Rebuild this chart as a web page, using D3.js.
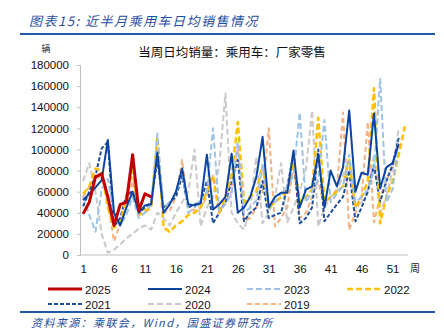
<!DOCTYPE html>
<html><head><meta charset="utf-8">
<script src="https://cdn.jsdelivr.net/npm/d3@7/dist/d3.min.js"></script>
<style>body{margin:0;background:#fff;} svg{display:block;}</style>
</head><body>
<svg id="c" width="444" height="333"></svg>
<script>
const weeks = d3.range(1, 54);
const xTickLabels = [1, 6, 11, 16, 21, 26, 31, 36, 41, 46, 51];
const yTicks = [0, 20000, 40000, 60000, 80000, 100000, 120000, 140000, 160000, 180000];
const seriesNames = ["2025", "2024", "2023", "2022", "2021", "2020", "2019"];

const s2025 = [39000, 50000, 74000, 77000, 55000, 28000, 48000, 50000, 95000, 42000, 58000, 55000];
const s2024 = [52000, 58000, 64000, 71000, 109000, 40000, 28000, 45000, 60000, 40000, 47000, 48000, 97000, 40000, 48000, 60000, 82000, 48000, 47000, 49000, 95000, 43000, 48000, 55000, 96000, 40000, 45000, 55000, 74000, 112000, 45000, 55000, 59000, 59000, 99000, 45000, 62000, 65000, 95000, 45000, 80000, 65000, 83000, 137000, 60000, 78000, 76000, 134000, 63000, 83000, 87000, 105000];
const s2023 = [55000, 38000, 22000, 62000, 72000, 38000, 28000, 38000, 55000, 35000, 40000, 48000, 115000, 45000, 50000, 58000, 80000, 40000, 45000, 52000, 60000, 120000, 42000, 48000, 58000, 107000, 40000, 45000, 52000, 85000, 45000, 50000, 58000, 65000, 75000, 135000, 50000, 60000, 72000, 128000, 50000, 58000, 65000, 95000, 50000, 55000, 62000, 80000, 167000, 50000, 62000, 110000];
const s2022 = [58000, 65000, 82000, 80000, 45000, 26000, 30000, 55000, 80000, 38000, 42000, 45000, 112000, 26000, 22000, 28000, 32000, 38000, 40000, 45000, 60000, 75000, 40000, 55000, 75000, 126000, 50000, 55000, 60000, 85000, 45000, 50000, 55000, 60000, 92000, 50000, 55000, 62000, 130000, 50000, 55000, 60000, 65000, 90000, 45000, 55000, 70000, 158000, 30000, 55000, 70000, 95000, 122000];
const s2021 = [46000, 60000, 75000, 101000, 107000, 27000, 35000, 57000, 60000, 40000, 45000, 50000, 90000, 45000, 50000, 55000, 75000, 45000, 48000, 50000, 70000, 30000, 40000, 50000, 70000, 90000, 32000, 40000, 45000, 70000, 35000, 38000, 40000, 65000, 95000, 30000, 35000, 45000, 100000, 32000, 40000, 48000, 55000, 80000, 32000, 45000, 60000, 85000, 50000, 70000, 85000, 111000];
const s2020 = [70000, 87000, 60000, 20000, 2000, 5000, 10000, 16000, 20000, 25000, 28000, 24000, 40000, 35000, 28000, 40000, 50000, 60000, 100000, 27000, 45000, 55000, 85000, 153000, 40000, 30000, 24000, 45000, 93000, 30000, 40000, 55000, 87000, 31000, 45000, 60000, 80000, 137000, 27000, 45000, 55000, 60000, 75000, 90000, 45000, 50000, 60000, 95000, 40000, 55000, 80000, 120000];
const s2019 = [55000, 65000, 72000, 75000, 50000, 13000, 30000, 45000, 70000, 38000, 40000, 45000, 100000, 40000, 42000, 55000, 90000, 45000, 42000, 45000, 55000, 75000, 40000, 50000, 60000, 100000, 32000, 35000, 45000, 60000, 120000, 27000, 35000, 45000, 85000, 35000, 40000, 55000, 70000, 45000, 55000, 62000, 135000, 24000, 40000, 55000, 126000, 31000, 55000, 70000, 85000, 100000];

const seriesValues = [s2025, s2024, s2023, s2022, s2021, s2020, s2019];
const seriesColors = ["#C00000", "#0B45A0", "#9DC3E6", "#FFC000", "#1F4E9E", "#C9C9C9", "#F4B183"];
const seriesDash = [null, null, "6,3", "6,3", "4,2", "6,3", "5,3"];
const seriesWidth = [3, 2, 2, 2.5, 2, 2, 2];

const svg = d3.select("#c");
const x = d3.scalePoint().domain(weeks).range([80, 408]).padding(0.5);
const y = d3.scaleLinear().domain([0, 180000]).range([255, 65]);

// header
svg.append("text").attr("x", 29).attr("y", 26).attr("fill", "#1F4E9F")
  .attr("font-family", "'Noto Sans CJK SC', sans-serif").attr("font-style", "italic")
  .attr("font-size", 13).attr("letter-spacing", 1.5).text("图表15:  近半月乘用车日均销售情况");
svg.append("line").attr("x1", 20).attr("x2", 435).attr("y1", 34).attr("y2", 34)
  .attr("stroke", "#1F5AA8").attr("stroke-width", 2);

svg.append("text").attr("x", 46).attr("y", 52).attr("text-anchor", "middle")
  .attr("font-family", "'Noto Sans CJK SC', sans-serif").attr("font-size", 9).attr("fill", "#222").text("辆");
svg.append("text").attr("x", 232).attr("y", 57).attr("text-anchor", "middle")
  .attr("font-family", "'Noto Sans CJK SC', sans-serif").attr("font-size", 12.5).attr("fill", "#111")
  .text("当周日均销量：乘用车：厂家零售");

// axes
const yAxis = d3.axisLeft(y).tickValues(yTicks).tickSize(3).tickPadding(8).tickFormat(d3.format("d"));
const gy = svg.append("g").attr("transform", "translate(80,0)").call(yAxis);
gy.select(".domain").attr("stroke", "#BFBFBF");
gy.selectAll(".tick line").attr("stroke", "#BFBFBF");
gy.selectAll("text").attr("font-family", "'Liberation Sans', Arial, sans-serif").attr("font-size", 11.5).attr("fill", "#111");

const xAxis = d3.axisBottom(x).tickValues(xTickLabels).tickSize(0).tickPadding(10);
const gx = svg.append("g").attr("transform", "translate(0,255)").call(xAxis);
gx.select(".domain").attr("stroke", "#BFBFBF").attr("d", "M80,0H408");
gx.selectAll("text").attr("font-family", "'Liberation Sans', Arial, sans-serif").attr("font-size", 11.5).attr("fill", "#111");
svg.append("text").attr("x", 415).attr("y", 272).attr("text-anchor", "middle")
  .attr("font-family", "'Noto Sans CJK SC', sans-serif").attr("font-size", 10).attr("fill", "#222").text("周");

// lines (2019 first, 2025 last on top)
const line = d3.line().defined(d => d != null).x((d, i) => x(weeks[i])).y(d => y(d));
const order = [6, 5, 4, 3, 2, 1, 0];
order.forEach(k => {
  svg.append("path").datum(seriesValues[k]).attr("d", line)
    .attr("fill", "none").attr("stroke", seriesColors[k]).attr("stroke-width", seriesWidth[k])
    .attr("stroke-dasharray", seriesDash[k]).attr("stroke-linejoin", "round");
});

// legend
const legX = [48, 148, 247, 347];
const legY = [289, 304];
seriesNames.forEach((name, i) => {
  const lx = legX[i % 4], ly = legY[Math.floor(i / 4)];
  svg.append("line").attr("x1", lx).attr("x2", lx + 34).attr("y1", ly).attr("y2", ly)
    .attr("stroke", seriesColors[i]).attr("stroke-width", i === 0 ? 3 : (i === 3 ? 2.5 : 2))
    .attr("stroke-dasharray", seriesDash[i]);
  svg.append("text").attr("x", lx + 37).attr("y", ly + 4.5)
    .attr("font-family", "'Liberation Sans', Arial, sans-serif").attr("font-size", 11.5).attr("fill", "#111").text(name);
});

// footer
svg.append("line").attr("x1", 20).attr("x2", 435).attr("y1", 312).attr("y2", 312)
  .attr("stroke", "#1F5AA8").attr("stroke-width", 2);
svg.append("text").attr("x", 31).attr("y", 327).attr("fill", "#1F4E9F")
  .attr("font-family", "'Noto Sans CJK SC', sans-serif").attr("font-style", "italic")
  .attr("font-size", 11).attr("letter-spacing", 1.4).text("资料来源：乘联会，Wind，国盛证券研究所");
</script>
</body></html>
